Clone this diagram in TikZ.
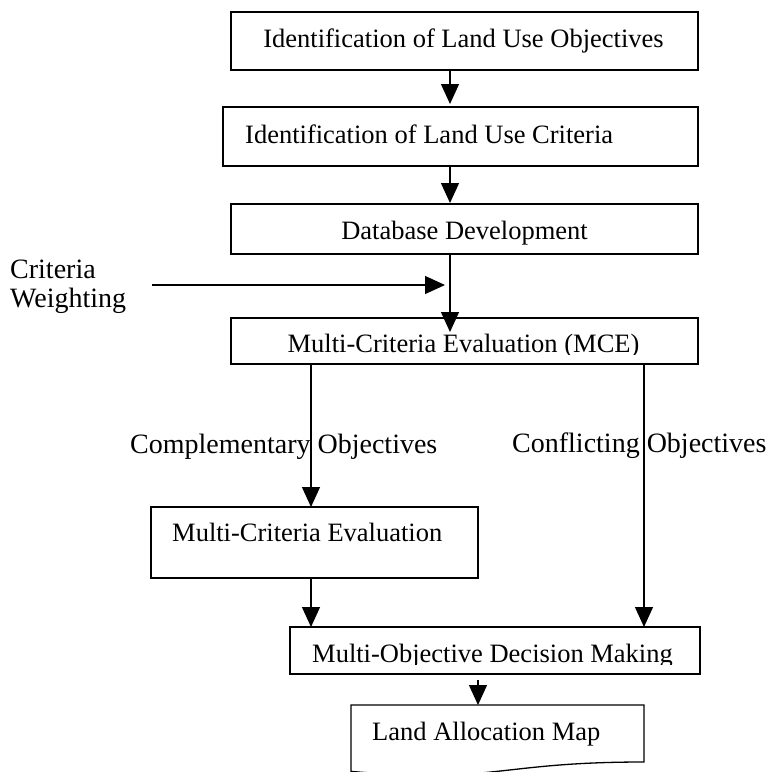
\documentclass[tikz,border=0pt]{standalone}
\usepackage{fontspec}
\setmainfont{Liberation Serif}
\usetikzlibrary{arrows.meta}
\begin{document}
\begin{tikzpicture}[x=1pt,y=-1pt,
  box/.style={draw=black, line width=1.3pt, inner sep=0pt, outer sep=0pt},
  arr/.style={line width=1.3pt, -{Triangle[length=20pt,width=18pt]}},
  btext/.style={anchor=base west, inner sep=0pt, font=\fontsize{26.5}{30}\selectfont},
  ctext/.style={anchor=base, inner sep=0pt, font=\fontsize{26.5}{30}\selectfont},
  ltext/.style={anchor=base west, inner sep=0pt, font=\fontsize{28}{32}\selectfont}]
\useasboundingbox[fill=white] (0,0) rectangle (772,772);

% boxes
\node[box, minimum width=467pt, minimum height=58pt] (b1) at (464.5,41) {};
\node[box, minimum width=475pt, minimum height=59pt] (b2) at (460.5,136.5) {};
\node[box, minimum width=467pt, minimum height=50pt] (b3) at (464.5,229) {};
\node[box, minimum width=467pt, minimum height=46pt] (b4) at (464.5,341) {};
\node[box, minimum width=327pt, minimum height=71pt] (b5) at (314.5,542.5) {};
\node[box, minimum width=410pt, minimum height=47pt] (b6) at (495,650.5) {};
\node[inner sep=0pt, outer sep=0pt, minimum width=293pt, minimum height=71pt] (b7) at (497.5,740.5) {};
\draw[line width=1.3pt] (351,705) -- (644,705) -- (644,762)
  .. controls (497.5,762) and (497.5,783.7) .. (351,771.4) -- cycle;

% texts
\node[ctext] (t1) at (463.5,47) {Identification of Land Use Objectives};
\node[btext] (t2) at (245,143) {Identification of Land Use Criteria};
\node[ctext] (t3) at (464.5,239) {Database Development};
\begin{scope}
\clip (231,318) rectangle (698,354);
\node[ctext] (t4) at (463.5,352) {Multi-Criteria Evaluation (MCE)};
\end{scope}
\node[btext] (t5) at (172,541) {Multi-Criteria Evaluation};
\begin{scope}
\clip (290,627) rectangle (700,664);
\node[btext] (t6) at (312,662) {Multi-Objective Decision Making};
\end{scope}
\node[btext] (t7) at (372,740) {Land Allocation Map};

\node[ltext] (cw1) at (10,278) {Criteria};
\node[ltext] (cw2) at (10,307) {Weighting};
\node[ltext] (lc) at (130,453) {Complementary Objectives};
\node[ltext] (lf) at (512,452) {Conflicting Objectives};

% connector columns
\coordinate (xa) at (450,0);
\coordinate (xl) at (311,0);
\coordinate (xr) at (644,0);
\coordinate (xm) at (478,0);
\coordinate (cw) at (152,285);

% connectors
\draw[arr, shorten >=3pt] (xa |- b1.south) -- (xa |- b2.north);
\draw[arr, shorten >=1pt] (xa |- b2.south) -- (xa |- b3.north);
\draw[arr, shorten >=-14pt] (xa |- b3.south) -- (xa |- b4.north);
\draw[arr, shorten >=5pt] (cw) -- (xa |- cw);
\draw[arr] (xl |- b4.south) -- (xl |- b5.north);
\draw[arr] (xr |- b4.south) -- (xr |- b6.north);
\draw[arr] (xl |- b5.south) -- (xl |- b6.north);
\draw[arr, shorten <=6pt] (xm |- b6.south) -- (xm |- b7.north);
\end{tikzpicture}
\end{document}
